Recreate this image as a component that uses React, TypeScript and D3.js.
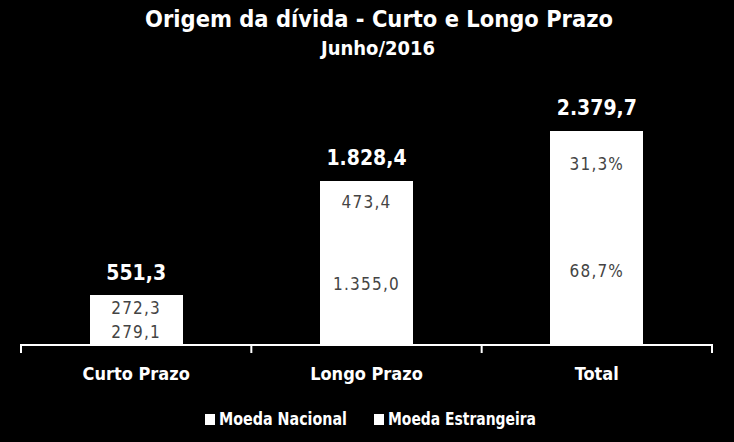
import React, { useEffect, useRef } from "react";
import * as d3 from "d3";

const categories = ["Curto Prazo", "Longo Prazo", "Total"];
const nacional = [279.1, 1355.0, 1634.1];
const estrangeira = [272.3, 473.4, 745.6];
const totals = ["551,3", "1.828,4", "2.379,7"];
const nacionalLabels = ["279,1", "1.355,0", "68,7%"];
const estrangeiraLabels = ["272,3", "473,4", "31,3%"];
const seriesNames = ["Moeda Nacional", "Moeda Estrangeira"];

const FONT = "'DejaVu Sans Condensed', 'Liberation Sans Narrow', sans-serif";

export default function App() {
  const ref = useRef<SVGSVGElement>(null);

  useEffect(() => {
    document.body.style.margin = "0";
    document.body.style.background = "#000";

    const width = 734, height = 442;
    const svg = d3.select(ref.current);
    svg.selectAll("*").remove();
    svg.attr("width", width).attr("height", height);

    svg.append("rect").attr("width", width).attr("height", height).attr("fill", "#000");

    const x = d3.scaleBand<string>()
      .domain(categories)
      .range([21, 712])
      .paddingInner(0.595)
      .paddingOuter(0.2975);

    const y = d3.scaleLinear().domain([0, 2379.7]).range([345, 131]);

    const rows = categories.map((c, i) => ({
      cat: c, nac: nacional[i], est: estrangeira[i],
      total: totals[i], nacLabel: nacionalLabels[i], estLabel: estrangeiraLabels[i],
    }));

    const g = svg.append("g").attr("shape-rendering", "crispEdges");

    // bottom segment (Moeda Nacional)
    g.selectAll("rect.nac")
      .data(rows)
      .enter()
      .append("rect")
      .attr("x", d => Math.round(x(d.cat)!))
      .attr("y", d => Math.round(y(d.nac)))
      .attr("width", Math.round(x.bandwidth()))
      .attr("height", d => 345 - Math.round(y(d.nac)))
      .attr("fill", "#fff");

    // top segment (Moeda Estrangeira)
    g.selectAll("rect.est")
      .data(rows)
      .enter()
      .append("rect")
      .attr("x", d => Math.round(x(d.cat)!))
      .attr("y", d => Math.round(y(d.nac + d.est)))
      .attr("width", Math.round(x.bandwidth()))
      .attr("height", d => Math.round(y(d.nac)) - Math.round(y(d.nac + d.est)) + 1)
      .attr("fill", "#fff");

    const cx = (d: { cat: string }) => x(d.cat)! + x.bandwidth() / 2;

    const labels = svg.append("g");
    labels.selectAll("text.nac")
      .data(rows)
      .enter()
      .append("text")
      .attr("x", cx)
      .attr("y", d => (y(0) + y(d.nac)) / 2)
      .attr("dy", "0.35em")
      .attr("text-anchor", "middle")
      .attr("font-family", FONT)
      .attr("font-size", 17)
      .attr("letter-spacing", 1.2)
      .attr("fill", "#444")
      .text(d => d.nacLabel);

    labels.selectAll("text.est")
      .data(rows)
      .enter()
      .append("text")
      .attr("x", cx)
      .attr("y", d => (y(d.nac) + y(d.nac + d.est)) / 2)
      .attr("dy", "0.35em")
      .attr("text-anchor", "middle")
      .attr("font-family", FONT)
      .attr("font-size", 17)
      .attr("letter-spacing", 1.2)
      .attr("fill", "#444")
      .text(d => d.estLabel);

    labels.selectAll("text.total")
      .data(rows)
      .enter()
      .append("text")
      .attr("x", cx)
      .attr("y", d => y(d.nac + d.est) - 23)
      .attr("dy", "0.35em")
      .attr("text-anchor", "middle")
      .attr("font-family", FONT)
      .attr("font-size", 21)
      .attr("font-weight", "bold")
      .attr("fill", "#fff")
      .text(d => d.total);

    // category axis, ticks between groups
    const axis = svg.append("g").attr("transform", "translate(0,345)");
    axis.append("line")
      .attr("x1", 21).attr("x2", 713)
      .attr("stroke", "#fff").attr("stroke-width", 2);
    const tickX = [21, ...categories.map((c, i) => 21 + x.step() * (i + 1))];
    axis.selectAll("line.tick")
      .data(tickX)
      .enter()
      .append("line")
      .attr("x1", d => d).attr("x2", d => d)
      .attr("y1", -1).attr("y2", 8)
      .attr("stroke", "#fff").attr("stroke-width", 2);

    axis.selectAll("text")
      .data(categories)
      .enter()
      .append("text")
      .attr("x", d => x(d)! + x.bandwidth() / 2)
      .attr("y", 29)
      .attr("dy", "0.35em")
      .attr("text-anchor", "middle")
      .attr("font-family", FONT)
      .attr("font-size", 18)
      .attr("font-weight", "bold")
      .attr("fill", "#fff")
      .text(d => d);

    // title
    svg.append("text")
      .attr("x", 379).attr("y", 19).attr("dy", "0.35em")
      .attr("text-anchor", "middle")
      .attr("font-family", FONT).attr("font-size", 23).attr("font-weight", "bold")
      .attr("textLength", 468).attr("lengthAdjust", "spacingAndGlyphs")
      .attr("fill", "#fff")
      .text("Origem da dívida - Curto e Longo Prazo");
    svg.append("text")
      .attr("x", 378).attr("y", 48).attr("dy", "0.35em")
      .attr("text-anchor", "middle")
      .attr("font-family", FONT).attr("font-size", 19).attr("font-weight", "bold")
      .attr("textLength", 114).attr("lengthAdjust", "spacingAndGlyphs")
      .attr("fill", "#fff")
      .text("Junho/2016");

    // legend
    const legendX = [205, 374];
    const legendW = [128, 148];
    const items = svg.append("g").selectAll("g")
      .data(seriesNames)
      .enter()
      .append("g")
      .attr("transform", (d, i) => `translate(${legendX[i]},419.5)`);
    items.append("rect")
      .attr("x", 0).attr("y", -5.5).attr("width", 10).attr("height", 11)
      .attr("fill", "#fff");
    items.append("text")
      .attr("x", 14).attr("y", 0).attr("dy", "0.35em")
      .attr("font-family", FONT).attr("font-size", 17).attr("font-weight", "bold")
      .attr("textLength", (d, i) => legendW[i]).attr("lengthAdjust", "spacingAndGlyphs")
      .attr("fill", "#fff")
      .text(d => d);
  }, []);

  return (
    <div style={{ width: 734, height: 442 }}>
      <svg ref={ref} style={{ display: "block" }}></svg>
    </div>
  );
}
